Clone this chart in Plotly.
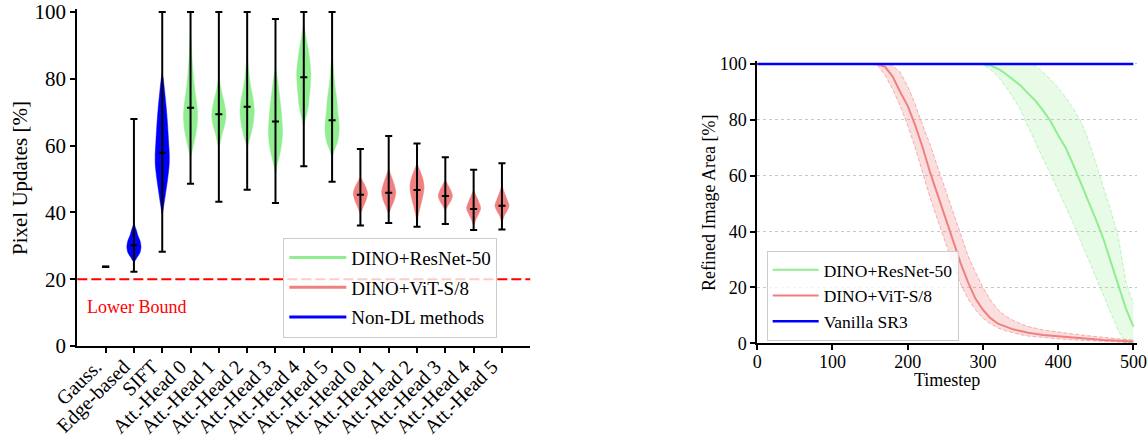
import plotly.graph_objects as go

# ---------------- Left panel data (violins) ----------------
categories = ["Gauss.", "Edge-based", "SIFT",
              "Att.-Head 0", "Att.-Head 1", "Att.-Head 2", "Att.-Head 3", "Att.-Head 4", "Att.-Head 5",
              "Att.-Head 0", "Att.-Head 1", "Att.-Head 2", "Att.-Head 3", "Att.-Head 4", "Att.-Head 5"]
groups = ["Non-DL methods"] * 3 + ["DINO+ResNet-50"] * 6 + ["DINO+ViT-S/8"] * 6
mins = [23.7, 22.2, 28.2, 48.6, 43.2, 46.8, 42.8, 53.8, 49.2, 36.1, 36.8, 35.7, 36.5, 34.7, 34.9]
maxs = [23.7, 68.0, 100, 100, 100, 100, 97.9, 100, 100, 59.0, 62.9, 60.6, 56.5, 52.8, 54.7]
medians = [23.7, 30.2, 57.9, 71.3, 69.4, 71.6, 67.2, 80.5, 67.6, 45.3, 45.9, 46.7, 44.9, 41.0, 42.0]

# estimated density profiles (levels in %, relative density 0..1)
violin_levels = [
    [],
    [25.2, 26.5, 28, 29.7, 31.5, 33, 35, 36.7],
    [39.7, 42, 46, 50, 54, 57, 61, 66, 71, 76, 80, 81.5],
    [56.7, 59, 62, 65, 68.7, 72, 75, 78.6, 82, 86, 90, 94],
    [59.5, 61, 63.7, 66, 68.7, 71, 73.7, 76, 78, 80, 81],
    [59.5, 61, 63.7, 67, 70.7, 74, 77.6, 81, 84, 87.6],
    [51.7, 54, 57.7, 61, 64.7, 68, 71, 73.7, 78.6, 81, 83.6],
    [65.7, 67.5, 69.7, 72, 74.6, 78, 82, 86, 89.6, 93.6, 97],
    [56.7, 58.5, 61, 64.2, 67.5, 70.5, 73.7, 78.6, 83, 88.6],
    [39.7, 41.5, 43.5, 45.7, 47.5, 49, 50.7],
    [39.7, 41.5, 43.5, 45.9, 48.5, 51, 53],
    [37.2, 39.5, 42, 45, 47.7, 50.5, 52.5, 54.7],
    [40.7, 42, 43.5, 45, 46.5, 48, 49.7],
    [36.2, 38, 39.8, 41.2, 43, 45, 46.7],
    [37.2, 39, 40.5, 42, 43.8, 46, 48.2],
]
violin_density = [
    [],
    [0, .43, .86, 1, .86, .57, .29, 0],
    [0, .21, .49, .76, .97, 1, .9, .76, .58, .35, .14, 0],
    [0, .29, .61, .86, 1, .9, .71, .5, .36, .21, .11, 0],
    [0, .2, .49, .8, 1, .91, .67, .4, .2, .07, 0],
    [0, .21, .56, .88, 1, .83, .51, .28, .14, 0],
    [0, .21, .64, .9, 1, .9, .79, .64, .36, .19, 0],
    [0, .18, .44, .66, .78, .93, 1, .81, .56, .22, 0],
    [0, .3, .75, 1, .94, .78, .67, .37, .19, 0],
    [0, .35, .76, 1, .76, .42, 0],
    [0, .34, .75, 1, .75, .34, 0],
    [0, .21, .49, .83, 1, .76, .42, 0],
    [0, .36, .79, 1, .79, .43, 0],
    [0, .35, .76, 1, .76, .35, 0],
    [0, .33, .73, 1, .73, .33, 0],
]
lower_bound = 20

# ---------------- Right panel data ----------------
t_red = [0, 150, 160, 170, 180, 190, 200, 210, 220, 230, 240, 250, 260, 270, 280, 290, 300,
         310, 320, 330, 340, 350, 360, 380, 400, 420, 440, 460, 480, 500]
vit_mean = [100, 100, 100, 99, 95.5, 90, 85, 78, 70, 61, 53, 45, 37, 29, 22, 16, 12,
            9, 7, 6, 5, 4.4, 3.8, 3, 2.5, 2, 1.6, 1.2, 0.9, 0.6]
vit_upper = [100, 100, 100, 100, 99.5, 97, 92, 85.5, 78, 71, 63, 55, 47, 39, 31.5, 25.5, 20,
             15.5, 12, 9.8, 8.2, 7, 6, 4.8, 4, 3.3, 2.7, 2.1, 1.6, 1.2]
vit_lower = [100, 100, 99.5, 96, 91, 85, 78, 70, 61, 52, 44, 36, 28.5, 21.5, 16, 12, 9,
             7, 5.5, 4.5, 3.7, 3.1, 2.6, 2, 1.6, 1.2, 0.9, 0.6, 0.4, 0.2]

t_green = [0, 290, 300, 310, 320, 330, 340, 350, 360, 370, 380, 390, 400, 410, 420, 430,
           440, 450, 460, 470, 480, 490, 500]
res_mean = [100, 100, 100, 99.5, 98.3, 96.5, 94.5, 92.3, 89.5, 86.8, 83.3, 79.5, 74.5, 70, 64, 57.5,
            51.5, 44.5, 37.5, 29, 21, 12.5, 6]
res_upper = [100, 100, 100, 100, 100, 100, 100, 100, 100, 99.5, 97, 94.5, 91.5, 88, 84, 79.5,
             73, 64.5, 56.5, 47.5, 38, 22, 14]
res_lower = [100, 100, 99.8, 98, 95.5, 92, 88, 83.5, 77.5, 71.5, 66, 60.5, 55, 49, 43, 36.5,
             30, 24, 17, 10.5, 4.5, 0, 0]

t_sr3 = [0, 500]
sr3 = [100, 100]

# ---------------- Styling ----------------
FONT = "Liberation Serif"
GREEN = "#90EE90"
RED = "#F08080"
BLUE = "#0000FF"
group_color = {"Non-DL methods": BLUE, "DINO+ResNet-50": GREEN, "DINO+ViT-S/8": RED}
VIOLIN_HALF = 0.25
CAP_HALF = 0.125

positions = list(range(1, len(categories) + 1))

fig = go.Figure()

# violin bodies
for pos, lv, dn, g in zip(positions, violin_levels, violin_density, groups):
    if not lv:
        continue
    xs = [pos + VIOLIN_HALF * d for d in dn] + [pos - VIOLIN_HALF * d for d in reversed(dn)]
    ys = list(lv) + list(reversed(lv))
    fig.add_trace(go.Scatter(x=xs, y=ys, mode="lines", fill="toself",
                             fillcolor=group_color[g],
                             line=dict(width=0.5, color=group_color[g], shape="spline", smoothing=0.8),
                             showlegend=False, hoverinfo="skip", xaxis="x", yaxis="y"))

# whiskers, caps and medians
wx, wy = [], []
for pos, lo, hi, md in zip(positions, mins, maxs, medians):
    wx += [pos, pos, None]
    wy += [lo, hi, None]
    for v in (lo, hi, md):
        wx += [pos - CAP_HALF, pos + CAP_HALF, None]
        wy += [v, v, None]
fig.add_trace(go.Scatter(x=wx, y=wy, mode="lines", line=dict(color="black", width=2),
                         showlegend=False, hoverinfo="skip", xaxis="x", yaxis="y"))

# legend entries for left panel
for i, name in enumerate(["DINO+ResNet-50", "DINO+ViT-S/8", "Non-DL methods"]):
    fig.add_trace(go.Scatter(x=[None], y=[None], mode="lines", name=name,
                             line=dict(color=group_color[name], width=3),
                             legend="legend", legendgroup="L%d" % i, xaxis="x", yaxis="y"))

# ---------------- Right panel traces ----------------
def band(t, lo, hi, color_line, color_fill):
    fig.add_trace(go.Scatter(x=t, y=lo, mode="lines", line=dict(color=color_line, width=1, dash="4px,2px"),
                             showlegend=False, hoverinfo="skip", xaxis="x2", yaxis="y2"))
    fig.add_trace(go.Scatter(x=t, y=hi, mode="lines", fill="tonexty", fillcolor=color_fill,
                             line=dict(color=color_line, width=1, dash="4px,2px"),
                             showlegend=False, hoverinfo="skip", xaxis="x2", yaxis="y2"))

band(t_green, res_lower, res_upper, "rgba(144,238,144,0.6)", "rgba(144,238,144,0.22)")
band(t_red, vit_lower, vit_upper, "rgba(240,128,128,0.6)", "rgba(240,128,128,0.25)")

fig.add_trace(go.Scatter(x=t_green, y=res_mean, mode="lines", name="DINO+ResNet-50",
                         line=dict(color=GREEN, width=2), legend="legend2", legendgroup="R0",
                         xaxis="x2", yaxis="y2"))
fig.add_trace(go.Scatter(x=t_red, y=vit_mean, mode="lines", name="DINO+ViT-S/8",
                         line=dict(color=RED, width=2), legend="legend2", legendgroup="R1",
                         xaxis="x2", yaxis="y2"))
fig.add_trace(go.Scatter(x=t_sr3, y=sr3, mode="lines", name="Vanilla SR3",
                         line=dict(color=BLUE, width=2.5), legend="legend2", legendgroup="R2",
                         xaxis="x2", yaxis="y2", cliponaxis=False))

axis_common = dict(showline=True, linecolor="black", linewidth=2, ticks="outside", ticklen=5,
                   tickwidth=1.5, tickcolor="black", zeroline=False, color="black", automargin=False)

fig.update_layout(
    width=1147, height=440, autosize=False,
    margin=dict(l=0, r=0, t=0, b=0, autoexpand=False),
    paper_bgcolor="white", plot_bgcolor="white",
    font=dict(family=FONT, color="black"),
    xaxis=dict(domain=[0.0674, 0.4623], range=[0, 16], tickmode="array", tickvals=positions,
               ticktext=categories, tickangle=-45, showgrid=False, anchor="y",
               ticklabelshift=-10, ticklabelstandoff=-6,
               tickfont=dict(size=20, family=FONT), **axis_common),
    yaxis=dict(domain=[0.2136, 0.9803], range=[0, 101], tickmode="array",
               tickvals=[0, 20, 40, 60, 80, 100], showgrid=False, anchor="x",
               tickfont=dict(size=21, family=FONT), **axis_common),
    xaxis2=dict(domain=[0.6602, 0.9914], range=[0, 505], tickmode="array",
                tickvals=[0, 100, 200, 300, 400, 500], showgrid=False, anchor="y2",
                ticklabelstandoff=-4,
                tickfont=dict(size=18, family=FONT), **axis_common),
    yaxis2=dict(domain=[0.2198, 0.8609], range=[0, 101], tickmode="array",
                tickvals=[0, 20, 40, 60, 80, 100], showgrid=True, gridcolor="#c8c8c8",
                gridwidth=1, griddash="3px,3px", anchor="x2",
                tickfont=dict(size=18, family=FONT), **axis_common),
    legend=dict(x=0.247, y=0.4598, xanchor="left", yanchor="top",
                bgcolor="rgba(255,255,255,0.8)", bordercolor="#cccccc", borderwidth=1,
                font=dict(size=19, family=FONT), traceorder="grouped", tracegroupgap=2,
                itemwidth=57),
    legend2=dict(x=0.6684, y=0.430, xanchor="left", yanchor="top",
                 bgcolor="rgba(255,255,255,0.8)", bordercolor="#cccccc", borderwidth=1,
                 font=dict(size=17.5, family=FONT), traceorder="grouped", tracegroupgap=0,
                 itemwidth=46),
    shapes=[dict(type="line", xref="x domain", yref="y", x0=0, x1=1, y0=lower_bound, y1=lower_bound,
                 line=dict(color="red", width=2, dash="10px,4px"), layer="below")],
    annotations=[
        dict(text="Lower Bound", x=0.27, y=11.8, xref="x", yref="y", xanchor="left", yanchor="middle",
             showarrow=False, font=dict(size=18, color="red", family=FONT)),
        dict(text="Pixel Updates [%]", x=20 / 1147, y=1 - 178 / 440, xref="paper", yref="paper",
             textangle=-90, showarrow=False, xanchor="center", yanchor="middle",
             font=dict(size=21, family=FONT)),
        dict(text="Refined Image Area [%]", x=709 / 1147, y=1 - 203 / 440, xref="paper", yref="paper",
             textangle=-90, showarrow=False, xanchor="center", yanchor="middle",
             font=dict(size=18, family=FONT)),
        dict(text="Timestep", x=946.7 / 1147, y=1 - 380 / 440, xref="paper", yref="paper",
             showarrow=False, xanchor="center", yanchor="middle",
             font=dict(size=18, family=FONT)),
    ],
)

fig.write_html("out.html", config={"displayModeBar": False},
               post_script="document.body.style.margin='0';document.body.style.overflow='hidden';")
